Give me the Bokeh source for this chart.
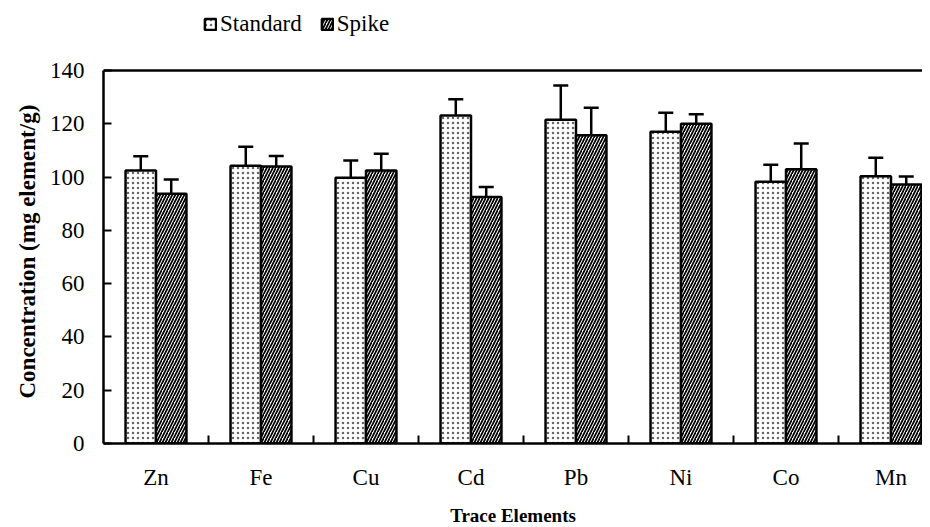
import numpy as np
from bokeh.plotting import figure
from bokeh.models import (ColumnDataSource, Whisker, TeeHead, Legend, LegendItem,
                          FixedTicker, Range1d, Span, Title)
from bokeh.embed import file_html
from bokeh.resources import INLINE

elements = ["Zn", "Fe", "Cu", "Cd", "Pb", "Ni", "Co", "Mn"]
standard = [102.5, 104.2, 99.7, 123.1, 121.5, 117.0, 98.2, 100.3]
standard_err = [5.3, 7.2, 6.5, 6.1, 12.9, 7.1, 6.4, 6.9]
spike = [93.7, 104.0, 102.5, 92.5, 115.7, 120.0, 102.9, 97.2]
spike_err = [5.4, 3.9, 6.2, 3.8, 10.3, 3.6, 9.7, 3.0]
y_ticks = [0, 20, 40, 60, 80, 100, 120, 140]
Y_MAX = 140

FONT = "Liberation Serif"
BAR_W = 0.29

centers = np.arange(len(elements)) + 0.5
bounds = list(np.arange(1, len(elements)))

src_std = ColumnDataSource(dict(x=centers - BAR_W / 2, top=standard,
                                up=np.array(standard) + np.array(standard_err)))
src_spk = ColumnDataSource(dict(x=centers + BAR_W / 2, top=spike,
                                up=np.array(spike) + np.array(spike_err)))

# frame extends above the 140 line to hold the legend (axis bounded at 0..140)
p = figure(frame_width=819, frame_height=433, output_backend="svg",
           toolbar_location=None,
           x_range=Range1d(0, 7.8), y_range=Range1d(0, 162.5),
           min_border_left=103, min_border_right=0, min_border_top=10,
           min_border_bottom=60)
p.outline_line_color = None
p.xgrid.visible = False
p.ygrid.visible = False
p.background_fill_color = "white"

r_std = p.vbar(x="x", top="top", bottom=0, width=BAR_W, source=src_std,
               fill_color="white", line_color="black", line_width=2.5,
               hatch_pattern="dot", hatch_scale=5, hatch_color="#666666",
               hatch_weight=1.0)
r_spk = p.vbar(x="x", top="top", bottom=0, width=BAR_W, source=src_spk,
               fill_color="white", line_color="black", line_width=2.5,
               hatch_pattern="right_diagonal_line", hatch_scale=6,
               hatch_color="black", hatch_weight=1.7)

for src in (src_std, src_spk):
    w = Whisker(base="x", lower="top", upper="up", source=src, dimension="height",
                line_color="black", line_width=2.5, lower_head=None,
                upper_head=TeeHead(size=15, line_width=2.5, line_color="black"),
                level="overlay")
    p.add_layout(w)

# top border line at the axis maximum
p.add_layout(Span(location=Y_MAX, dimension="width", line_color="black",
                  line_width=2.5))

# x axis: labels at centers, ticks at group boundaries
xa = p.xaxis[0]
xa.ticker = FixedTicker(ticks=list(centers), minor_ticks=bounds)
xa.major_label_overrides = {float(c): e for c, e in zip(centers, elements)}
xa.major_tick_line_color = None
xa.major_tick_in = 0
xa.major_tick_out = 0
xa.minor_tick_in = 8
xa.minor_tick_out = 0
xa.minor_tick_line_width = 2
xa.minor_tick_line_color = "black"
xa.axis_line_width = 2.5
xa.axis_line_color = "black"
xa.major_label_text_font = FONT
xa.major_label_text_font_size = "23px"
xa.major_label_text_color = "black"
xa.major_label_standoff = 21
xa.axis_label = "Trace Elements"
xa.axis_label_text_font = FONT
xa.axis_label_text_font_style = "bold"
xa.axis_label_text_font_size = "19px"
xa.axis_label_text_color = "black"
xa.axis_label_standoff = 12

ya = p.yaxis[0]
ya.bounds = (0, Y_MAX)
ya.ticker = FixedTicker(ticks=y_ticks)
ya.major_tick_in = 8
ya.major_tick_out = 0
ya.major_tick_line_width = 2
ya.minor_tick_line_color = None
ya.axis_line_width = 2.5
ya.axis_line_color = "black"
ya.major_label_text_font = FONT
ya.major_label_text_font_size = "23px"
ya.major_label_text_color = "black"
ya.major_label_standoff = 19

# y-axis title, placed along the 0..140 span
p.add_layout(Title(text="Concentration (mg element/g)", align="left", offset=45,
                   text_font=FONT, text_font_size="23px", text_font_style="bold",
                   text_color="black", standoff=13), "left")

legend = Legend(items=[LegendItem(label="Standard", renderers=[r_std]),
                       LegendItem(label="Spike", renderers=[r_spk])],
                orientation="horizontal", location=(100, 406),
                label_text_font=FONT, label_text_font_size="23px",
                label_text_color="black", glyph_width=14, glyph_height=14,
                label_standoff=3, spacing=18, padding=0, margin=0,
                border_line_color=None, background_fill_alpha=0)
p.add_layout(legend, "center")

open("out.html", "w").write(file_html(p, INLINE))
